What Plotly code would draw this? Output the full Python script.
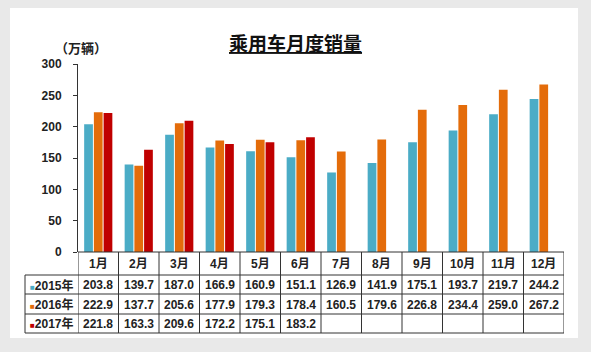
import plotly.graph_objects as go

months = ["1月", "2月", "3月", "4月", "5月", "6月", "7月", "8月", "9月", "10月", "11月", "12月"]
series_names = ["2015年", "2016年", "2017年"]
v2015 = [203.8, 139.7, 187.0, 166.9, 160.9, 151.1, 126.9, 141.9, 175.1, 193.7, 219.7, 244.2]
v2016 = [222.9, 137.7, 205.6, 177.9, 179.3, 178.4, 160.5, 179.6, 226.8, 234.4, 259.0, 267.2]
v2017 = [221.8, 163.3, 209.6, 172.2, 175.1, 183.2, None, None, None, None, None, None]
colors = ["#4bacc6", "#e46c0a", "#c00000"]
title_text = "乘用车月度销量"
unit_text = "（万辆）"
y_ticks = [0, 50, 100, 150, 200, 250, 300]

W, H = 591, 352
L, R, T, B = 78, 27, 64, 100
pw = W - L - R
ph = H - T - B

def py(pix):
    return (H - B - pix) / ph

def px(pix):
    return (pix - L) / pw

FONT = "Liberation Sans, Arial, Noto Sans CJK SC"

fig = go.Figure()
all_vals = [v2015, v2016, v2017]
for name, vals, c in zip(series_names, all_vals, colors):
    fig.add_trace(go.Bar(x=list(range(len(months))), y=vals, name=name,
                         marker=dict(color=c, line=dict(width=0))))

shapes = []
# card background
shapes.append(dict(type="rect", xref="paper", yref="paper", x0=px(10), x1=px(578),
                   y0=py(338), y1=py(8), fillcolor="white", line=dict(width=0), layer="below"))
# table lines
row_y = [252, 275, 294, 314, 333]
lc = "#333333"
for i, yy in enumerate(row_y):
    if i == 0:
        shapes.append(dict(type="line", xref="x", yref="paper", x0=-0.5, x1=len(months) - 0.5,
                           y0=py(yy), y1=py(yy), line=dict(color=lc, width=1)))
    else:
        shapes.append(dict(type="line", xref="paper", yref="paper", x0=px(25), x1=1,
                           y0=py(yy), y1=py(yy), line=dict(color=lc, width=1)))
for k in range(len(months) + 1):
    shapes.append(dict(type="line", xref="x", yref="paper", x0=k - 0.5, x1=k - 0.5,
                       y0=py(252), y1=py(333), line=dict(color=lc, width=1)))
shapes.append(dict(type="line", xref="paper", yref="paper", x0=px(25), x1=px(25),
                   y0=py(275), y1=py(333), line=dict(color=lc, width=1)))

ann = []
tf = dict(family=FONT, size=12, color="#222222", weight="bold")
for i, m in enumerate(months):
    ann.append(dict(x=i, xref="x", y=py(263.5), yref="paper", text=m,
                    showarrow=False, font=tf, xanchor="center", yanchor="middle"))
row_centers = [285, 304.5, 323.5]
for r, (name, vals, c) in enumerate(zip(series_names, all_vals, colors)):
    ann.append(dict(x=px(51.5), xref="paper", y=py(row_centers[r]), yref="paper",
                    text="<span style='color:%s;font-size:8px'>■</span>%s" % (c, name),
                    showarrow=False, font=tf, xanchor="center", yanchor="middle"))
    for i, v in enumerate(vals):
        if v is None:
            continue
        ann.append(dict(x=i, xref="x", y=py(row_centers[r]), yref="paper",
                        text="%.1f" % v, showarrow=False, font=tf,
                        xanchor="center", yanchor="middle"))
ann.append(dict(x=px(295), xref="paper", y=py(44), yref="paper",
                text="<u>%s</u>" % title_text, showarrow=False,
                font=dict(family=FONT, size=19, color="#111111", weight="bold"),
                xanchor="center", yanchor="middle"))
ann.append(dict(x=px(81), xref="paper", y=py(48), yref="paper",
                text=unit_text, showarrow=False,
                font=dict(family=FONT, size=13, color="#222222", weight="bold"),
                xanchor="center", yanchor="middle"))

fig.update_layout(
    width=W, height=H, margin=dict(l=L, r=R, t=T, b=B),
    paper_bgcolor="#e9e9e9", plot_bgcolor="white",
    barmode="group", bargap=0.28, bargroupgap=0.1,
    showlegend=False, shapes=shapes, annotations=ann,
    xaxis=dict(range=[-0.5, len(months) - 0.5], showticklabels=False, showgrid=False,
               zeroline=False, showline=False, ticks=""),
    yaxis=dict(range=[0, 300], tickvals=y_ticks, showgrid=False, zeroline=False,
               showline=True, linecolor=lc, linewidth=1, ticks="outside", ticklen=4,
               tickcolor=lc, ticklabelstandoff=9,
               tickfont=dict(family=FONT, size=12, color="#222222", weight="bold")),
)
fig.write_html("out.html")
